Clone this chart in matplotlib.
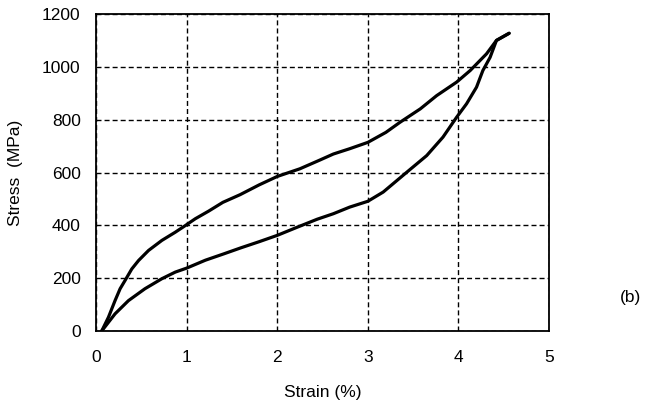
import matplotlib
matplotlib.use('Agg')
import matplotlib.pyplot as plt

# loading branch (upper curve), strain in %, stress in MPa
load_strain = [0.063, 0.137, 0.21, 0.266, 0.32, 0.395, 0.47, 0.58, 0.727, 0.875,
               0.985, 1.096, 1.244, 1.4, 1.59, 1.8, 2.0, 2.25, 2.47, 2.62,
               2.8, 3.0, 3.2, 3.355, 3.58, 3.76, 3.98, 4.13, 4.31, 4.42, 4.56]
load_stress = [0, 52, 115, 160, 191, 235, 267, 305, 343, 374,
               399, 425, 454, 487, 516, 553, 585, 614, 647, 670,
               690, 714, 752, 790, 841, 891, 942, 986, 1049, 1100, 1127]

# unloading branch (lower curve)
unload_strain = [4.56, 4.42, 4.35, 4.27, 4.20, 4.09, 3.98, 3.83, 3.65, 3.43,
                 3.17, 3.0, 2.80, 2.62, 2.44, 2.2, 2.0, 1.8, 1.6, 1.41,
                 1.207, 1.0, 0.875, 0.727, 0.54, 0.358, 0.21, 0.063]
unload_stress = [1127, 1100, 1036, 986, 923, 860, 809, 734, 664, 601,
                 526, 491, 469, 444, 423, 390, 362, 338, 315, 292,
                 268, 238, 223, 198, 160, 115, 65, 0]

x_ticks = [0, 1, 2, 3, 4, 5]
y_ticks = [0, 200, 400, 600, 800, 1000, 1200]

plt.rcParams['font.family'] = ['Liberation Sans', 'DejaVu Sans']

fig = plt.figure(figsize=(6.64, 4.08), dpi=100)
ax = fig.add_axes([0.1446, 0.1887, 0.6822, 0.777])

ax.plot(load_strain, load_stress, color='black', lw=2.3, solid_capstyle='round',
        solid_joinstyle='round')
ax.plot(unload_strain, unload_stress, color='black', lw=2.3, solid_capstyle='round',
        solid_joinstyle='round')

ax.set_xlim(0, 5)
ax.set_ylim(0, 1200)
ax.set_xticks(x_ticks)
ax.set_yticks(y_ticks)
ax.tick_params(length=0, labelsize=12.5, colors='black')
ax.tick_params(axis='x', pad=14)
ax.tick_params(axis='y', pad=11)
ax.grid(True, color='black', lw=1.0, dashes=(3.6, 2.2))
for s in ax.spines.values():
    s.set_linewidth(1.3)

ax.set_xlabel('Strain (%)', fontsize=12.5)
ax.xaxis.set_label_coords(0.5, -0.17)
ax.set_ylabel('Stress  (MPa)', fontsize=12.5)
ax.yaxis.set_label_coords(-0.162, 0.5)

fig.text(0.949, 0.27, '(b)', fontsize=12.5, ha='center', va='center')

fig.savefig('out.png', dpi=100)
